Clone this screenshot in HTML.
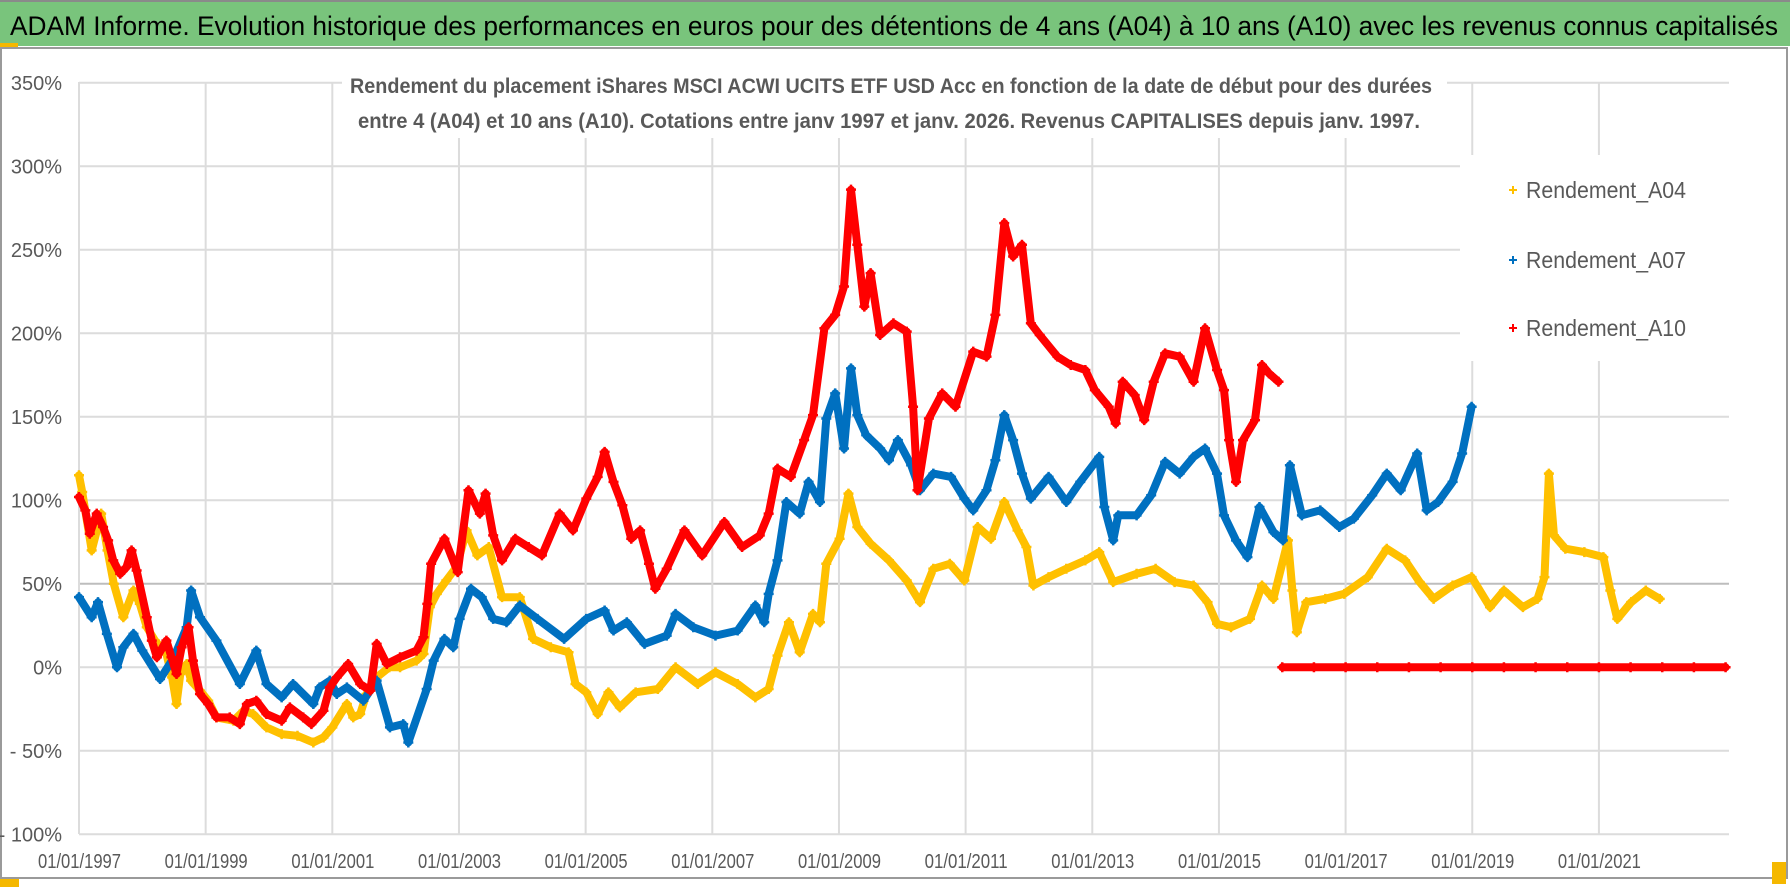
<!DOCTYPE html>
<html><head><meta charset="utf-8"><style>
html,body{margin:0;padding:0;background:#fff;}
svg{display:block;font-family:"Liberation Sans",sans-serif;}
</style></head><body>
<svg id="chart" width="1790" height="887" viewBox="0 0 1790 887" xmlns="http://www.w3.org/2000/svg">
<rect x="0" y="0" width="1790" height="887" fill="#fff"/>
<rect x="0" y="0" width="1790" height="46" fill="#79c47c"/>
<line x1="0" y1="1" x2="1790" y2="1" stroke="#8a8a8a" stroke-width="2"/>
<rect x="0" y="43" width="18" height="4" fill="#f5b800"/>
<text x="10" y="35" font-size="27" textLength="1768" lengthAdjust="spacingAndGlyphs" fill="#000">ADAM Informe. Evolution historique des performances en euros pour des détentions de 4 ans (A04) à 10 ans (A10) avec les revenus connus capitalisés</text>
<rect x="1" y="48" width="1786" height="830" fill="none" stroke="#9a9a9a" stroke-width="2"/>
<rect x="0" y="879" width="19" height="8" fill="#f5b800"/>
<rect x="1772" y="862" width="14" height="22" fill="#f5b800"/>
<g id="grid"></g>
<g id="yaxis"></g>
<g id="xaxis"></g>
<g id="series"></g>
<rect x="342" y="62" width="1105" height="76" fill="#fff"/>
<text x="350" y="93" font-size="21" font-weight="bold" fill="#595959" textLength="1082" lengthAdjust="spacingAndGlyphs">Rendement du placement iShares MSCI ACWI UCITS ETF USD Acc en fonction de la date de début pour des durées</text>
<text x="358" y="128" font-size="21" font-weight="bold" fill="#595959" textLength="1062" lengthAdjust="spacingAndGlyphs">entre 4 (A04) et 10 ans (A10). Cotations entre janv 1997 et janv. 2026. Revenus CAPITALISES depuis janv. 1997.</text>
<g id="legend">
<rect x="1460" y="155" width="272" height="206" fill="#fff"/>
<g><path d="M1509 190h8M1513 186v8" stroke="#ffc000" stroke-width="2"/><text x="1526" y="198" font-size="23" fill="#595959" textLength="160" lengthAdjust="spacingAndGlyphs">Rendement_A04</text></g>
<g><path d="M1509 260h8M1513 256v8" stroke="#0070c0" stroke-width="2"/><text x="1526" y="268" font-size="23" fill="#595959" textLength="160" lengthAdjust="spacingAndGlyphs">Rendement_A07</text></g>
<g><path d="M1509 328h8M1513 324v8" stroke="#ff0000" stroke-width="2"/><text x="1526" y="336" font-size="23" fill="#595959" textLength="160" lengthAdjust="spacingAndGlyphs">Rendement_A10</text></g>
</g>
</svg>
<script>
const yTickValues = [350,300,250,200,150,100,50,0,-50,-100];
const yTickLabels = ["350%","300%","250%","200%","150%","100%","50%","0%","- 50%","- 100%"];
const xTickYears = [1997,1999,2001,2003,2005,2007,2009,2011,2013,2015,2017,2019,2021];
const xTickLabels = ["01/01/1997","01/01/1999","01/01/2001","01/01/2003","01/01/2005","01/01/2007","01/01/2009","01/01/2011","01/01/2013","01/01/2015","01/01/2017","01/01/2019","01/01/2021"];

const a04Dates = [1997.0,1997.05,1997.2,1997.35,1997.45,1997.55,1997.7,1997.86,1997.96,1998.07,1998.2,1998.38,1998.47,1998.54,1998.6,1998.7,1998.77,1998.91,1999.04,1999.17,1999.44,1999.6,1999.75,1999.96,2000.2,2000.45,2000.7,2000.86,2001.0,2001.23,2001.33,2001.44,2001.54,2001.7,2001.9,2002.07,2002.33,2002.44,2002.54,2002.65,2002.8,2002.96,2003.12,2003.29,2003.47,2003.68,2003.96,2004.17,2004.45,2004.73,2004.84,2005.01,2005.19,2005.36,2005.54,2005.79,2006.14,2006.42,2006.77,2007.05,2007.4,2007.68,2007.89,2008.03,2008.21,2008.38,2008.59,2008.7,2008.8,2009.01,2009.15,2009.29,2009.5,2009.79,2010.07,2010.28,2010.49,2010.75,2010.98,2011.19,2011.4,2011.61,2011.82,2011.96,2012.07,2012.31,2012.59,2012.89,2013.11,2013.33,2013.7,2014.0,2014.3,2014.6,2014.82,2014.97,2015.19,2015.49,2015.68,2015.86,2016.09,2016.16,2016.23,2016.38,2016.68,2016.98,2017.35,2017.65,2017.94,2018.17,2018.39,2018.69,2018.99,2019.28,2019.5,2019.8,2020.03,2020.14,2020.21,2020.29,2020.47,2020.77,2021.07,2021.18,2021.29,2021.51,2021.74,2021.96];
const a04Values = [115,105,70,92,70,50,30,46,38,24,16,8,-6,-22,-4,2,-8,-14,-20,-30,-32,-26,-28,-36,-40,-41,-45,-42,-36,-22,-30,-28,-16,-6,0,0,4,8,36,44,52,60,82,67,72,42,42,17,12,9,-10,-15,-28,-15,-24,-15,-13,0,-10,-3,-10,-18,-13,7,27,9,32,27,62,77,104,84,74,64,52,39,59,62,52,84,77,99,82,72,49,54,59,64,69,51,56,59,51,49,39,26,24,29,49,41,76,46,21,39,41,44,54,71,64,51,41,49,54,36,46,36,41,54,116,79,71,69,66,46,29,39,46,41];

const a07Dates = [1997.0,1997.2,1997.3,1997.44,1997.6,1997.7,1997.86,1998.0,1998.28,1998.5,1998.7,1998.77,1998.91,1999.17,1999.54,1999.8,1999.96,2000.2,2000.38,2000.7,2000.8,2000.96,2001.07,2001.23,2001.49,2001.7,2001.91,2002.12,2002.2,2002.49,2002.6,2002.77,2002.91,2003.01,2003.19,2003.36,2003.54,2003.75,2003.96,2004.24,2004.66,2005.01,2005.3,2005.44,2005.65,2005.93,2006.28,2006.42,2006.7,2007.05,2007.4,2007.68,2007.82,2007.89,2008.03,2008.17,2008.38,2008.52,2008.7,2008.8,2008.94,2009.08,2009.19,2009.29,2009.43,2009.65,2009.79,2009.93,2010.14,2010.28,2010.49,2010.77,2010.98,2011.12,2011.33,2011.47,2011.61,2011.75,2011.89,2012.03,2012.31,2012.59,2012.81,2013.11,2013.19,2013.33,2013.41,2013.7,2013.93,2014.15,2014.38,2014.6,2014.78,2014.97,2015.08,2015.27,2015.45,2015.64,2015.86,2016.01,2016.12,2016.31,2016.6,2016.9,2017.13,2017.42,2017.65,2017.87,2018.13,2018.28,2018.46,2018.69,2018.84,2018.99];
const a07Values = [42,30,39,20,0,12,20,10,-7,6,24,46,30,16,-10,10,-10,-18,-10,-22,-12,-8,-16,-12,-20,-8,-36,-34,-45,-13,4,17,12,29,47,42,29,27,37,29,17,29,34,22,27,14,19,32,24,19,22,37,27,44,64,99,92,111,99,149,164,131,179,151,139,131,124,136,121,106,116,114,101,94,106,124,151,136,116,101,114,99,111,126,96,76,91,91,103,123,116,126,131,116,91,76,66,96,81,76,121,91,94,84,89,103,116,106,128,94,99,111,128,156];

const a10Dates = [1997.0,1997.1,1997.17,1997.28,1997.38,1997.46,1997.54,1997.65,1997.75,1997.83,1997.91,1998.07,1998.15,1998.23,1998.38,1998.46,1998.54,1998.62,1998.73,1998.8,1998.91,1999.04,1999.17,1999.38,1999.54,1999.65,1999.8,1999.96,2000.2,2000.33,2000.54,2000.67,2000.86,2000.96,2001.07,2001.25,2001.44,2001.6,2001.7,2001.86,2002.07,2002.33,2002.44,2002.5,2002.56,2002.77,2002.98,2003.15,2003.33,2003.42,2003.54,2003.68,2003.89,2004.1,2004.31,2004.59,2004.8,2005.01,2005.19,2005.3,2005.44,2005.58,2005.72,2005.86,2006.0,2006.1,2006.28,2006.56,2006.84,2007.19,2007.47,2007.75,2007.89,2008.03,2008.24,2008.45,2008.59,2008.77,2008.94,2009.08,2009.19,2009.29,2009.4,2009.5,2009.65,2009.86,2010.07,2010.17,2010.24,2010.42,2010.63,2010.84,2011.12,2011.33,2011.47,2011.61,2011.75,2011.89,2012.03,2012.17,2012.45,2012.66,2012.89,2013.04,2013.26,2013.37,2013.48,2013.67,2013.82,2013.97,2014.15,2014.38,2014.6,2014.78,2014.97,2015.08,2015.16,2015.27,2015.38,2015.57,2015.68,2015.79,2015.94,2016.0,2016.5,2017.0,2017.5,2018.0,2018.5,2019.0,2019.5,2020.0,2020.5,2021.0,2021.5,2022.0,2022.5,2023.0];
const a10Values = [102,94,80,92,84,76,64,56,60,70,58,30,16,6,16,6,-4,12,24,4,-16,-22,-30,-30,-34,-22,-20,-28,-32,-24,-30,-34,-26,-12,-6,2,-10,-14,14,2,6,10,18,38,62,77,57,106,92,104,79,64,77,72,67,92,82,101,114,129,111,97,77,82,62,47,59,82,67,87,72,79,92,119,114,136,151,203,211,228,286,253,216,236,199,206,201,156,106,149,164,156,189,186,211,266,246,253,206,199,186,181,178,166,156,146,171,163,148,171,188,186,171,203,178,166,136,111,136,148,181,176,171,0,0,0,0,0,0,0,0,0,0,0,0,0,0,0];

const NS = "http://www.w3.org/2000/svg";
const X0 = 79, PX_PER_YEAR = 63.33, Y0 = 667.3, PX_PER_PCT = 83.5/50;
const PLOT_L = 79, PLOT_R = 1729, PLOT_T = 82, PLOT_B = 834;
function xScale(year){ return X0 + (year - 1997) * PX_PER_YEAR; }
function yScale(v){ return Y0 - v * PX_PER_PCT; }
function mk(tag, attrs, parent){ const el = document.createElementNS(NS, tag); for (const k in attrs) el.setAttribute(k, attrs[k]); parent.appendChild(el); return el; }

const grid = document.getElementById('grid');
yTickValues.forEach(v => {
  const ln = mk('line', {x1:PLOT_L, x2:PLOT_R, y1:yScale(v), y2:yScale(v), stroke: v===50?'#bdbdbd':'#dcdcdc', 'stroke-width': 2}, grid);
  
  
});
xTickYears.forEach(yr => {
  const ln = mk('line', {x1:xScale(yr), x2:xScale(yr), y1:PLOT_T, y2:PLOT_B, stroke:'#dcdcdc', 'stroke-width': 2}, grid);
  
  
});

const yaxis = document.getElementById('yaxis');
yTickValues.forEach((v, i) => {
  const t = mk('text', {x:62, y:yScale(v)+7, 'font-size':20, fill:'#595959', 'text-anchor':'end'}, yaxis);
  t.textContent = yTickLabels[i];
  
  
});
const xaxis = document.getElementById('xaxis');
xTickYears.forEach((yr, i) => {
  const t = mk('text', {x:xScale(yr)-41, y:868, 'font-size':20, fill:'#595959', textLength:83, lengthAdjust:'spacingAndGlyphs'}, xaxis);
  t.textContent = xTickLabels[i];
  
  
});

const seriesLayer = document.getElementById('series');
function drawSeries(dates, values, color, name){
  const g = mk('g', {}, seriesLayer);
  
  
  // split into segments where the series jumps by a large amount (no connecting line in the scatter)
  const segs = [[]];
  dates.forEach((d, i) => {
    if (i > 0 && Math.abs(values[i] - values[i-1]) > 120) segs.push([]);
    segs[segs.length-1].push(xScale(d).toFixed(1) + ',' + yScale(values[i]).toFixed(1));
  });
  segs.forEach(s => {
    const pl = mk('polyline', {points: s.join(' '), fill:'none', stroke: color, 'stroke-width': 8, 'stroke-linejoin':'round', 'stroke-linecap':'round'}, g);
    
    
  });
  let d = '';
  dates.forEach((dt, i) => { const x = xScale(dt), y = yScale(values[i]); d += `M${x-5} ${y}h10M${x} ${y-5}v10`; });
  const mp = mk('path', {d: d, stroke: color, 'stroke-width': 2.5, fill:'none'}, g);
  
  
}
drawSeries(a04Dates, a04Values, '#ffc000', 'series-a04');
drawSeries(a07Dates, a07Values, '#0070c0', 'series-a07');
drawSeries(a10Dates, a10Values, '#ff0000', 'series-a10');
</script>
</body></html>
